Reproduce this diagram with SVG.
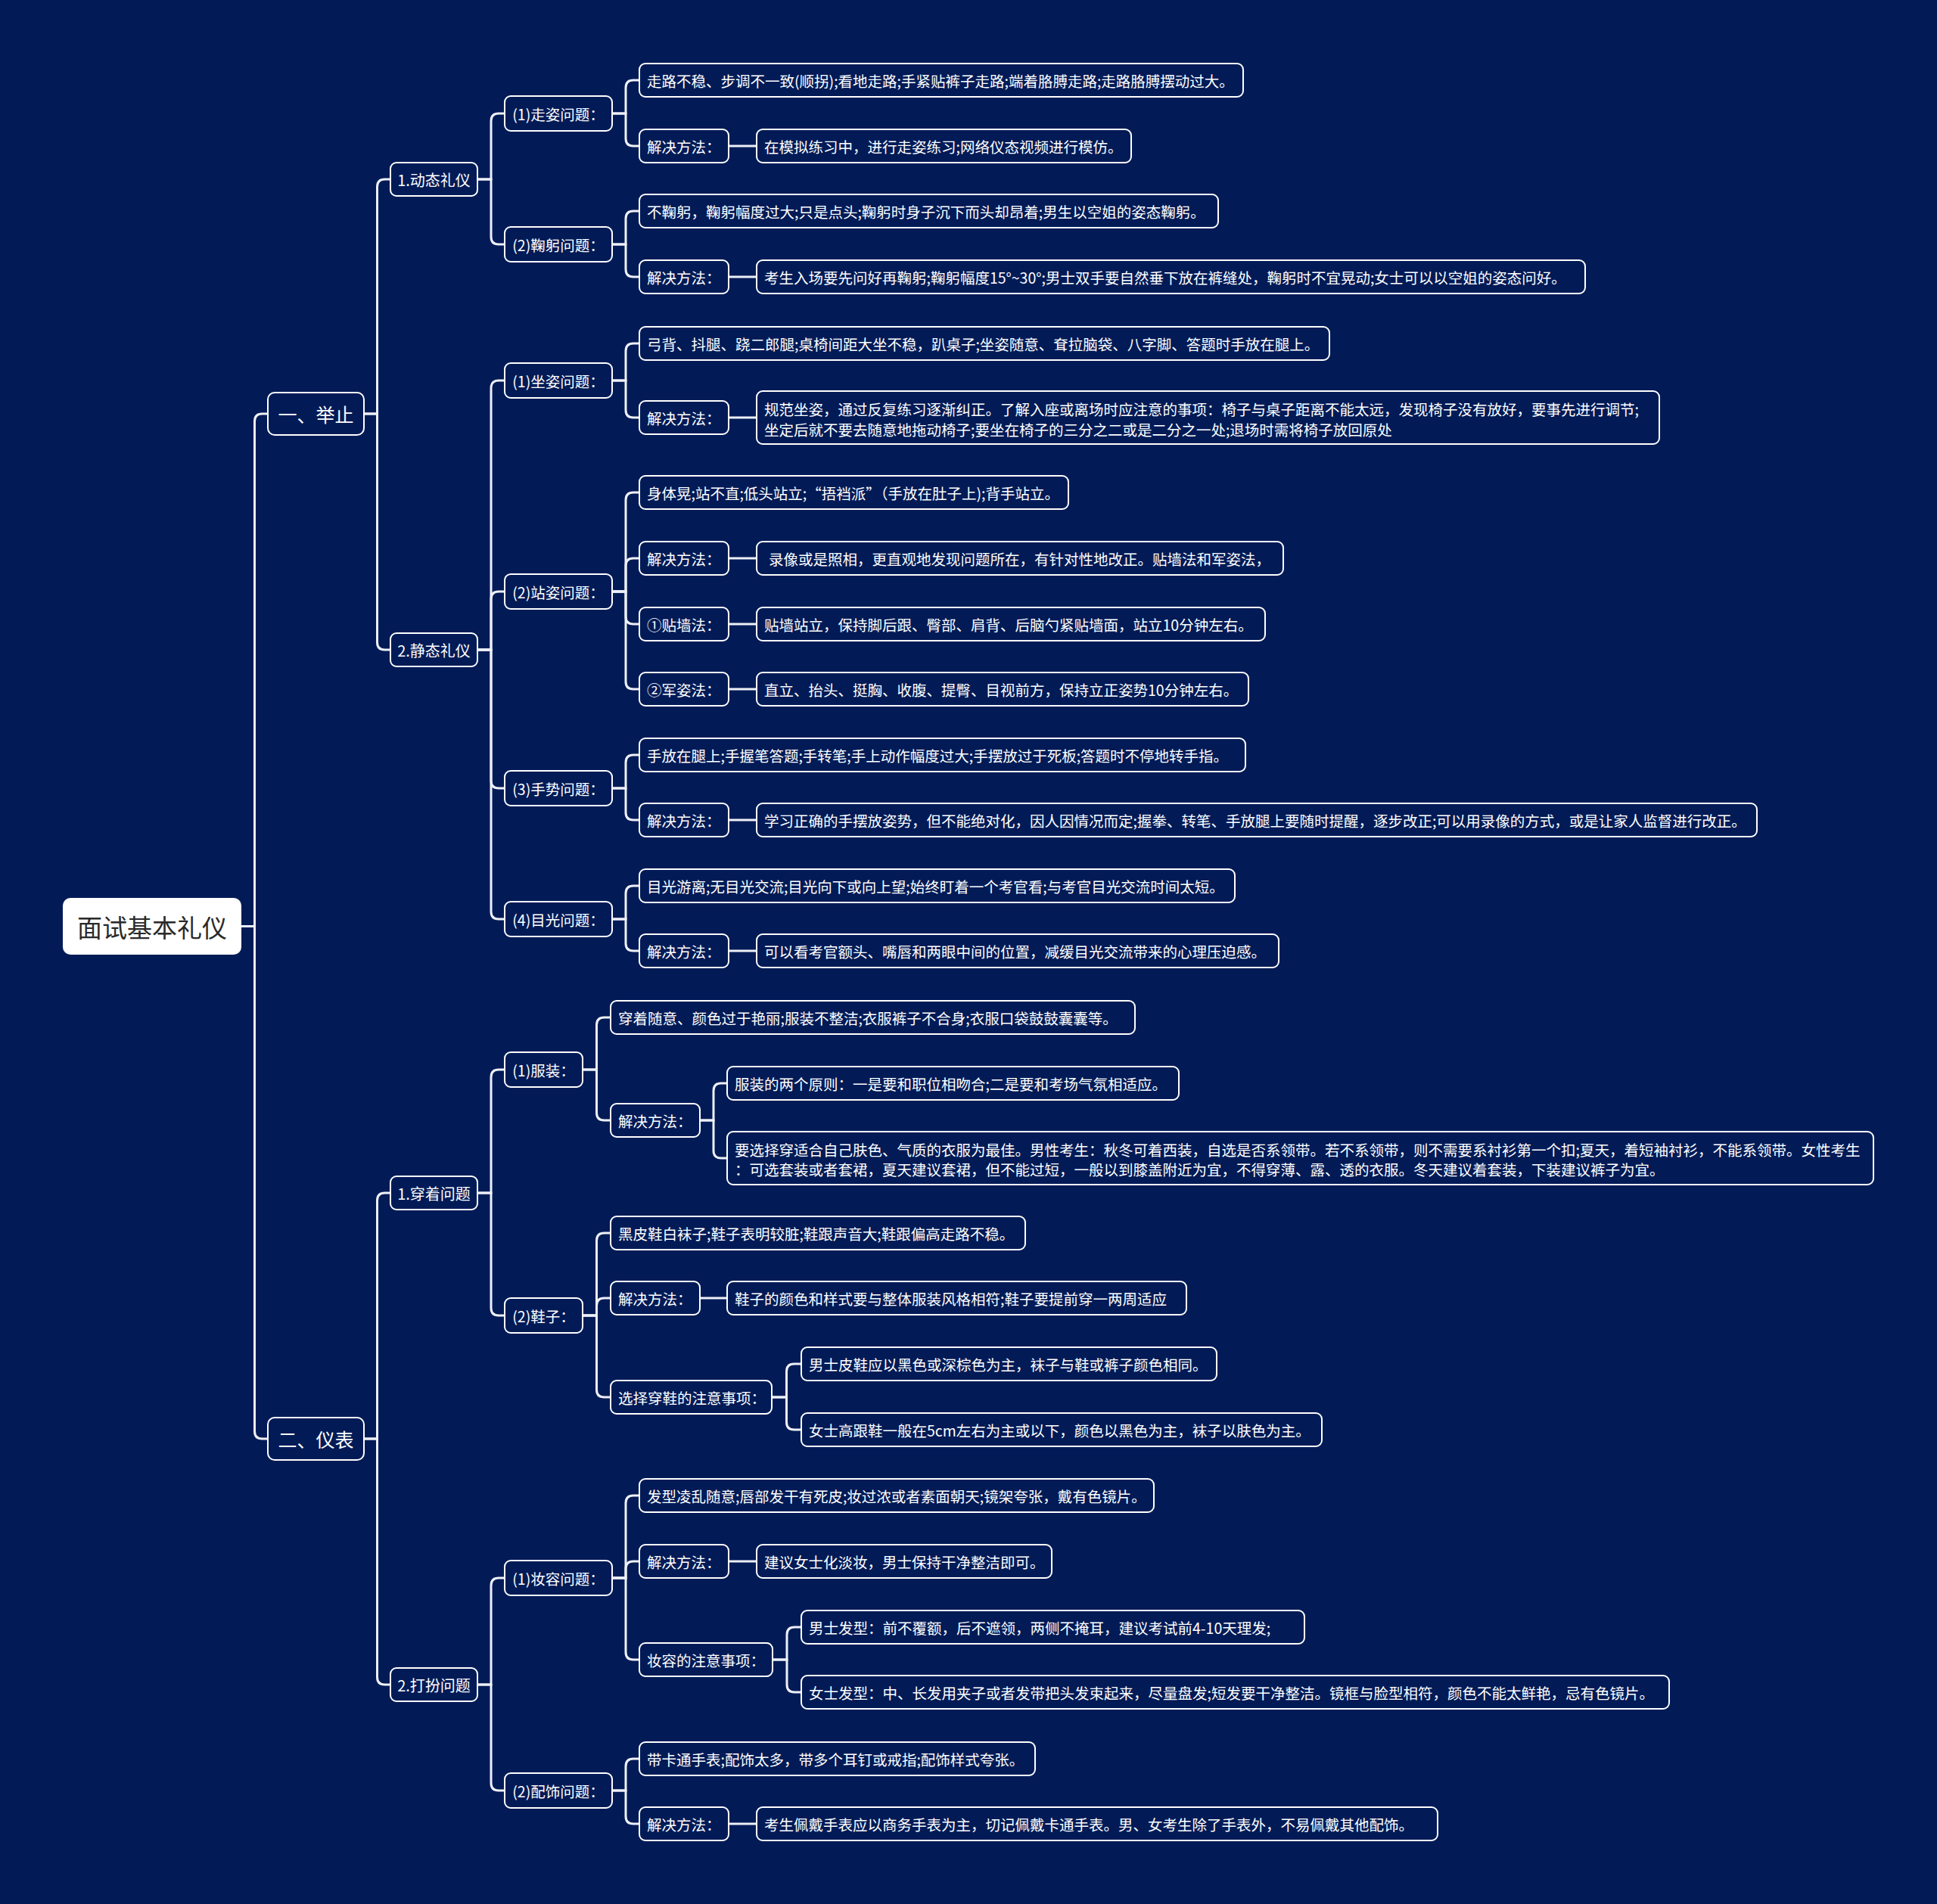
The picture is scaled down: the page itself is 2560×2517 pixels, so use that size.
<svg xmlns="http://www.w3.org/2000/svg" width="2560" height="2517" viewBox="0 0 2560 2517">
<style>
.n rect{fill:#021b57;stroke:#ffffff;stroke-width:2}
.t{font-family:"Noto Sans CJK SC","Noto Sans",sans-serif;fill:#ffffff;font-size:19.5px;dominant-baseline:central}
.m{text-anchor:middle}
.l2{font-size:20px}
.l1{font-size:25px}
.root rect{fill:#ffffff;stroke:none}
.root text{fill:#2a2a2a;font-size:33px}
.c path{stroke:#eef0f6;stroke-width:3;fill:none;stroke-linecap:round}
</style>
<rect x="0" y="0" width="2560" height="2517" fill="#021b57"/>
<g class="c" id="connectors">
<path d="M319 1224.5 H336.5 V557 Q336.5 547 346.5 547 H354"/>
<path d="M319 1224.5 H336.5 V1892 Q336.5 1902 346.5 1902 H354"/>
<path d="M481 547 H498.5 V247 Q498.5 237 508.5 237 H516"/>
<path d="M481 547 H498.5 V849 Q498.5 859 508.5 859 H516"/>
<path d="M481 1902 H498.5 V1587 Q498.5 1577 508.5 1577 H516"/>
<path d="M481 1902 H498.5 V2217 Q498.5 2227 508.5 2227 H516"/>
<path d="M631 237 H649 V160 Q649 150 659 150 H667"/>
<path d="M631 237 H649 V313 Q649 323 659 323 H667"/>
<path d="M631 859 H649 V513 Q649 503 659 503 H667"/>
<path d="M631 859 H649 V792 Q649 782 659 782 H667"/>
<path d="M631 859 H649 V1032 Q649 1042 659 1042 H667"/>
<path d="M631 859 H649 V1205 Q649 1215 659 1215 H667"/>
<path d="M631 1577 H649 V1424 Q649 1414 659 1414 H667"/>
<path d="M631 1577 H649 V1729 Q649 1739 659 1739 H667"/>
<path d="M631 2227 H649 V2096 Q649 2086 659 2086 H667"/>
<path d="M631 2227 H649 V2357 Q649 2367 659 2367 H667"/>
<path d="M809 150 H827 V116 Q827 106 837 106 H845"/>
<path d="M809 150 H827 V183 Q827 193 837 193 H845"/>
<path d="M809 323 H827 V289 Q827 279 837 279 H845"/>
<path d="M809 323 H827 V356 Q827 366 837 366 H845"/>
<path d="M809 503 H827 V464 Q827 454 837 454 H845"/>
<path d="M809 503 H827 V542 Q827 552 837 552 H845"/>
<path d="M809 782 H827 V661 Q827 651 837 651 H845"/>
<path d="M809 782 H827 V748 Q827 738 837 738 H845"/>
<path d="M809 782 H827 V815 Q827 825 837 825 H845"/>
<path d="M809 782 H827 V901 Q827 911 837 911 H845"/>
<path d="M809 1042 H827 V1008 Q827 998 837 998 H845"/>
<path d="M809 1042 H827 V1074 Q827 1084 837 1084 H845"/>
<path d="M809 1215 H827 V1181 Q827 1171 837 1171 H845"/>
<path d="M809 1215 H827 V1247 Q827 1257 837 1257 H845"/>
<path d="M770 1414 H788.5 V1355 Q788.5 1345 798.5 1345 H807"/>
<path d="M770 1414 H788.5 V1471 Q788.5 1481 798.5 1481 H807"/>
<path d="M770 1739 H788.5 V1640 Q788.5 1630 798.5 1630 H807"/>
<path d="M770 1739 H788.5 V1726 Q788.5 1716 798.5 1716 H807"/>
<path d="M770 1739 H788.5 V1837 Q788.5 1847 798.5 1847 H807"/>
<path d="M809 2086 H827 V1987 Q827 1977 837 1977 H845"/>
<path d="M809 2086 H827 V2074 Q827 2064 837 2064 H845"/>
<path d="M809 2086 H827 V2184 Q827 2194 837 2194 H845"/>
<path d="M809 2367 H827 V2335 Q827 2325 837 2325 H845"/>
<path d="M809 2367 H827 V2401 Q827 2411 837 2411 H845"/>
<path d="M963 193 H1000"/>
<path d="M963 366 H1000"/>
<path d="M963 552 H1000"/>
<path d="M963 738 H1000"/>
<path d="M963 825 H1000"/>
<path d="M963 911 H1000"/>
<path d="M963 1084 H1000"/>
<path d="M963 1257 H1000"/>
<path d="M925 1481 H943 V1442 Q943 1432 953 1432 H961"/>
<path d="M925 1481 H943 V1521 Q943 1531 953 1531 H961"/>
<path d="M925 1716 H961"/>
<path d="M1020 1847 H1039.5 V1813 Q1039.5 1803 1049.5 1803 H1059"/>
<path d="M1020 1847 H1039.5 V1880 Q1039.5 1890 1049.5 1890 H1059"/>
<path d="M963 2064 H1000"/>
<path d="M1021 2194 H1040 V2161 Q1040 2151 1050 2151 H1059"/>
<path d="M1021 2194 H1040 V2227 Q1040 2237 1050 2237 H1059"/>
<path d="M963 2411 H1000"/>
</g>

<g id="root" class="root"><rect x="83" y="1187" width="236" height="75" rx="10"/><text class="t m" x="201" y="1224.5">面试基本礼仪</text></g>

<g id="n-juzhi" class="n"><rect x="354" y="519" width="127" height="56" rx="9"/><text class="t m l1" x="417.5" y="547">一、举止</text></g>
<g id="n-yibiao" class="n"><rect x="354" y="1874" width="127" height="56" rx="9"/><text class="t m l1" x="417.5" y="1902">二、仪表</text></g>

<g id="n-dongtai" class="n"><rect x="516" y="215" width="115" height="44" rx="8"/><text class="t m l2" x="573.5" y="237">1.动态礼仪</text></g>
<g id="n-jingtai" class="n"><rect x="516" y="837" width="115" height="44" rx="8"/><text class="t m l2" x="573.5" y="859">2.静态礼仪</text></g>
<g id="n-chuanzhuo" class="n"><rect x="516" y="1555" width="115" height="44" rx="8"/><text class="t m l2" x="573.5" y="1577">1.穿着问题</text></g>
<g id="n-daban" class="n"><rect x="516" y="2205" width="115" height="44" rx="8"/><text class="t m l2" x="573.5" y="2227">2.打扮问题</text></g>

<g id="n-zouzi" class="n"><rect x="667" y="127" width="142" height="46" rx="8"/><text class="t m" x="738" y="150">(1)走姿问题：</text></g>
<g id="n-jugong" class="n"><rect x="667" y="300" width="142" height="46" rx="8"/><text class="t m" x="738" y="323">(2)鞠躬问题：</text></g>
<g id="n-zuozi" class="n"><rect x="667" y="480" width="142" height="46" rx="8"/><text class="t m" x="738" y="503">(1)坐姿问题：</text></g>
<g id="n-zhanzi" class="n"><rect x="667" y="759" width="142" height="46" rx="8"/><text class="t m" x="738" y="782">(2)站姿问题：</text></g>
<g id="n-shoushi" class="n"><rect x="667" y="1019" width="142" height="46" rx="8"/><text class="t m" x="738" y="1042">(3)手势问题：</text></g>
<g id="n-muguang" class="n"><rect x="667" y="1192" width="142" height="46" rx="8"/><text class="t m" x="738" y="1215">(4)目光问题：</text></g>
<g id="n-fuzhuang" class="n"><rect x="667" y="1391" width="103" height="46" rx="8"/><text class="t m" x="718.5" y="1414">(1)服装：</text></g>
<g id="n-xiezi" class="n"><rect x="667" y="1716" width="103" height="46" rx="8"/><text class="t m" x="718.5" y="1739">(2)鞋子：</text></g>
<g id="n-zhuangrong" class="n"><rect x="667" y="2063" width="142" height="46" rx="8"/><text class="t m" x="738" y="2086">(1)妆容问题：</text></g>
<g id="n-peishi" class="n"><rect x="667" y="2344" width="142" height="46" rx="8"/><text class="t m" x="738" y="2367">(2)配饰问题：</text></g>

<g id="a1" class="n"><rect x="845" y="84" width="798" height="44" rx="8"/><text class="t" x="855" y="106">走路不稳、步调不一致(顺拐);看地走路;手紧贴裤子走路;端着胳膊走路;走路胳膊摆动过大。</text></g>
<g id="a2" class="n"><rect x="845" y="171" width="118" height="44" rx="8"/><text class="t" x="855" y="193">解决方法：</text></g>
<g id="a2c" class="n"><rect x="1000" y="171" width="495" height="44" rx="8"/><text class="t" x="1010" y="193">在模拟练习中，进行走姿练习;网络仪态视频进行模仿。</text></g>

<g id="b1" class="n"><rect x="845" y="257" width="765" height="44" rx="8"/><text class="t" x="855" y="279">不鞠躬，鞠躬幅度过大;只是点头;鞠躬时身子沉下而头却昂着;男生以空姐的姿态鞠躬。</text></g>
<g id="b2" class="n"><rect x="845" y="344" width="118" height="44" rx="8"/><text class="t" x="855" y="366">解决方法：</text></g>
<g id="b2c" class="n"><rect x="1000" y="344" width="1095" height="44" rx="8"/><text class="t" x="1010" y="366">考生入场要先问好再鞠躬;鞠躬幅度15°~30°;男士双手要自然垂下放在裤缝处，鞠躬时不宜晃动;女士可以以空姐的姿态问好。</text></g>

<g id="c1" class="n"><rect x="845" y="432" width="912" height="44" rx="8"/><text class="t" x="855" y="454">弓背、抖腿、跷二郎腿;桌椅间距大坐不稳，趴桌子;坐姿随意、耷拉脑袋、八字脚、答题时手放在腿上。</text></g>
<g id="c2" class="n"><rect x="845" y="530" width="118" height="44" rx="8"/><text class="t" x="855" y="552">解决方法：</text></g>
<g id="c2c" class="n"><rect x="1000" y="517" width="1193" height="70" rx="8"/><text class="t" x="1010" y="540">规范坐姿，通过反复练习逐渐纠正。了解入座或离场时应注意的事项：椅子与桌子距离不能太远，发现椅子没有放好，要事先进行调节;</text><text class="t" x="1010" y="567">坐定后就不要去随意地拖动椅子;要坐在椅子的三分之二或是二分之一处;退场时需将椅子放回原处</text></g>

<g id="d1" class="n"><rect x="845" y="629" width="567" height="44" rx="8"/><text class="t" x="855" y="651">身体晃;站不直;低头站立;“捂裆派”（手放在肚子上);背手站立。</text></g>
<g id="d2" class="n"><rect x="845" y="716" width="118" height="44" rx="8"/><text class="t" x="855" y="738">解决方法：</text></g>
<g id="d2c" class="n"><rect x="1000" y="716" width="696" height="44" rx="8"/><text class="t" x="1016" y="738">录像或是照相，更直观地发现问题所在，有针对性地改正。贴墙法和军姿法，</text></g>
<g id="d3" class="n"><rect x="845" y="803" width="118" height="44" rx="8"/><text class="t" x="855" y="825">①贴墙法：</text></g>
<g id="d3c" class="n"><rect x="1000" y="803" width="672" height="44" rx="8"/><text class="t" x="1010" y="825">贴墙站立，保持脚后跟、臀部、肩背、后脑勺紧贴墙面，站立10分钟左右。</text></g>
<g id="d4" class="n"><rect x="845" y="889" width="118" height="44" rx="8"/><text class="t" x="855" y="911">②军姿法：</text></g>
<g id="d4c" class="n"><rect x="1000" y="889" width="650" height="44" rx="8"/><text class="t" x="1010" y="911">直立、抬头、挺胸、收腹、提臀、目视前方，保持立正姿势10分钟左右。</text></g>

<g id="e1" class="n"><rect x="845" y="976" width="801" height="44" rx="8"/><text class="t" x="855" y="998">手放在腿上;手握笔答题;手转笔;手上动作幅度过大;手摆放过于死板;答题时不停地转手指。</text></g>
<g id="e2" class="n"><rect x="845" y="1062" width="118" height="44" rx="8"/><text class="t" x="855" y="1084">解决方法：</text></g>
<g id="e2c" class="n"><rect x="1000" y="1062" width="1322" height="44" rx="8"/><text class="t" x="1010" y="1084">学习正确的手摆放姿势，但不能绝对化，因人因情况而定;握拳、转笔、手放腿上要随时提醒，逐步改正;可以用录像的方式，或是让家人监督进行改正。</text></g>

<g id="f1" class="n"><rect x="845" y="1149" width="787" height="44" rx="8"/><text class="t" x="855" y="1171">目光游离;无目光交流;目光向下或向上望;始终盯着一个考官看;与考官目光交流时间太短。</text></g>
<g id="f2" class="n"><rect x="845" y="1235" width="118" height="44" rx="8"/><text class="t" x="855" y="1257">解决方法：</text></g>
<g id="f2c" class="n"><rect x="1000" y="1235" width="690" height="44" rx="8"/><text class="t" x="1010" y="1257">可以看考官额头、嘴唇和两眼中间的位置，减缓目光交流带来的心理压迫感。</text></g>

<g id="g1" class="n"><rect x="807" y="1323" width="693" height="44" rx="8"/><text class="t" x="817" y="1345">穿着随意、颜色过于艳丽;服装不整洁;衣服裤子不合身;衣服口袋鼓鼓囊囊等。</text></g>
<g id="g2" class="n"><rect x="807" y="1459" width="118" height="44" rx="8"/><text class="t" x="817" y="1481">解决方法：</text></g>
<g id="g2c1" class="n"><rect x="961" y="1410" width="597" height="44" rx="8"/><text class="t" x="971" y="1432">服装的两个原则：一是要和职位相吻合;二是要和考场气氛相适应。</text></g>
<g id="g2c2" class="n"><rect x="961" y="1496" width="1515" height="70" rx="8"/><text class="t" x="971" y="1519">要选择穿适合自己肤色、气质的衣服为最佳。男性考生：秋冬可着西装，自选是否系领带。若不系领带，则不需要系衬衫第一个扣;夏天，着短袖衬衫，不能系领带。女性考生</text><text class="t" x="971" y="1545">：可选套装或者套裙，夏天建议套裙，但不能过短，一般以到膝盖附近为宜，不得穿薄、露、透的衣服。冬天建议着套装，下装建议裤子为宜。</text></g>

<g id="h1" class="n"><rect x="807" y="1608" width="548" height="44" rx="8"/><text class="t" x="817" y="1630">黑皮鞋白袜子;鞋子表明较脏;鞋跟声音大;鞋跟偏高走路不稳。</text></g>
<g id="h2" class="n"><rect x="807" y="1694" width="118" height="44" rx="8"/><text class="t" x="817" y="1716">解决方法：</text></g>
<g id="h2c" class="n"><rect x="961" y="1694" width="607" height="44" rx="8"/><text class="t" x="971" y="1716">鞋子的颜色和样式要与整体服装风格相符;鞋子要提前穿一两周适应</text></g>
<g id="h3" class="n"><rect x="807" y="1825" width="213" height="44" rx="8"/><text class="t" x="817" y="1847">选择穿鞋的注意事项：</text></g>
<g id="h3c1" class="n"><rect x="1059" y="1781" width="549" height="44" rx="8"/><text class="t" x="1069" y="1803">男士皮鞋应以黑色或深棕色为主，袜子与鞋或裤子颜色相同。</text></g>
<g id="h3c2" class="n"><rect x="1059" y="1868" width="688" height="44" rx="8"/><text class="t" x="1069" y="1890">女士高跟鞋一般在5cm左右为主或以下，颜色以黑色为主，袜子以肤色为主。</text></g>

<g id="i1" class="n"><rect x="845" y="1955" width="680" height="44" rx="8"/><text class="t" x="855" y="1977">发型凌乱随意;唇部发干有死皮;妆过浓或者素面朝天;镜架夸张，戴有色镜片。</text></g>
<g id="i2" class="n"><rect x="845" y="2042" width="118" height="44" rx="8"/><text class="t" x="855" y="2064">解决方法：</text></g>
<g id="i2c" class="n"><rect x="1000" y="2042" width="390" height="44" rx="8"/><text class="t" x="1010" y="2064">建议女士化淡妆，男士保持干净整洁即可。</text></g>
<g id="i3" class="n"><rect x="845" y="2172" width="176" height="44" rx="8"/><text class="t" x="855" y="2194">妆容的注意事项：</text></g>
<g id="i3c1" class="n"><rect x="1059" y="2129" width="665" height="44" rx="8"/><text class="t" x="1069" y="2151">男士发型：前不覆额，后不遮领，两侧不掩耳，建议考试前4-10天理发;</text></g>
<g id="i3c2" class="n"><rect x="1059" y="2215" width="1147" height="44" rx="8"/><text class="t" x="1069" y="2237">女士发型：中、长发用夹子或者发带把头发束起来，尽量盘发;短发要干净整洁。镜框与脸型相符，颜色不能太鲜艳，忌有色镜片。</text></g>

<g id="j1" class="n"><rect x="845" y="2303" width="523" height="44" rx="8"/><text class="t" x="855" y="2325">带卡通手表;配饰太多，带多个耳钉或戒指;配饰样式夸张。</text></g>
<g id="j2" class="n"><rect x="845" y="2389" width="118" height="44" rx="8"/><text class="t" x="855" y="2411">解决方法：</text></g>
<g id="j2c" class="n"><rect x="1000" y="2389" width="900" height="44" rx="8"/><text class="t" x="1010" y="2411">考生佩戴手表应以商务手表为主，切记佩戴卡通手表。男、女考生除了手表外，不易佩戴其他配饰。</text></g>
</svg>
